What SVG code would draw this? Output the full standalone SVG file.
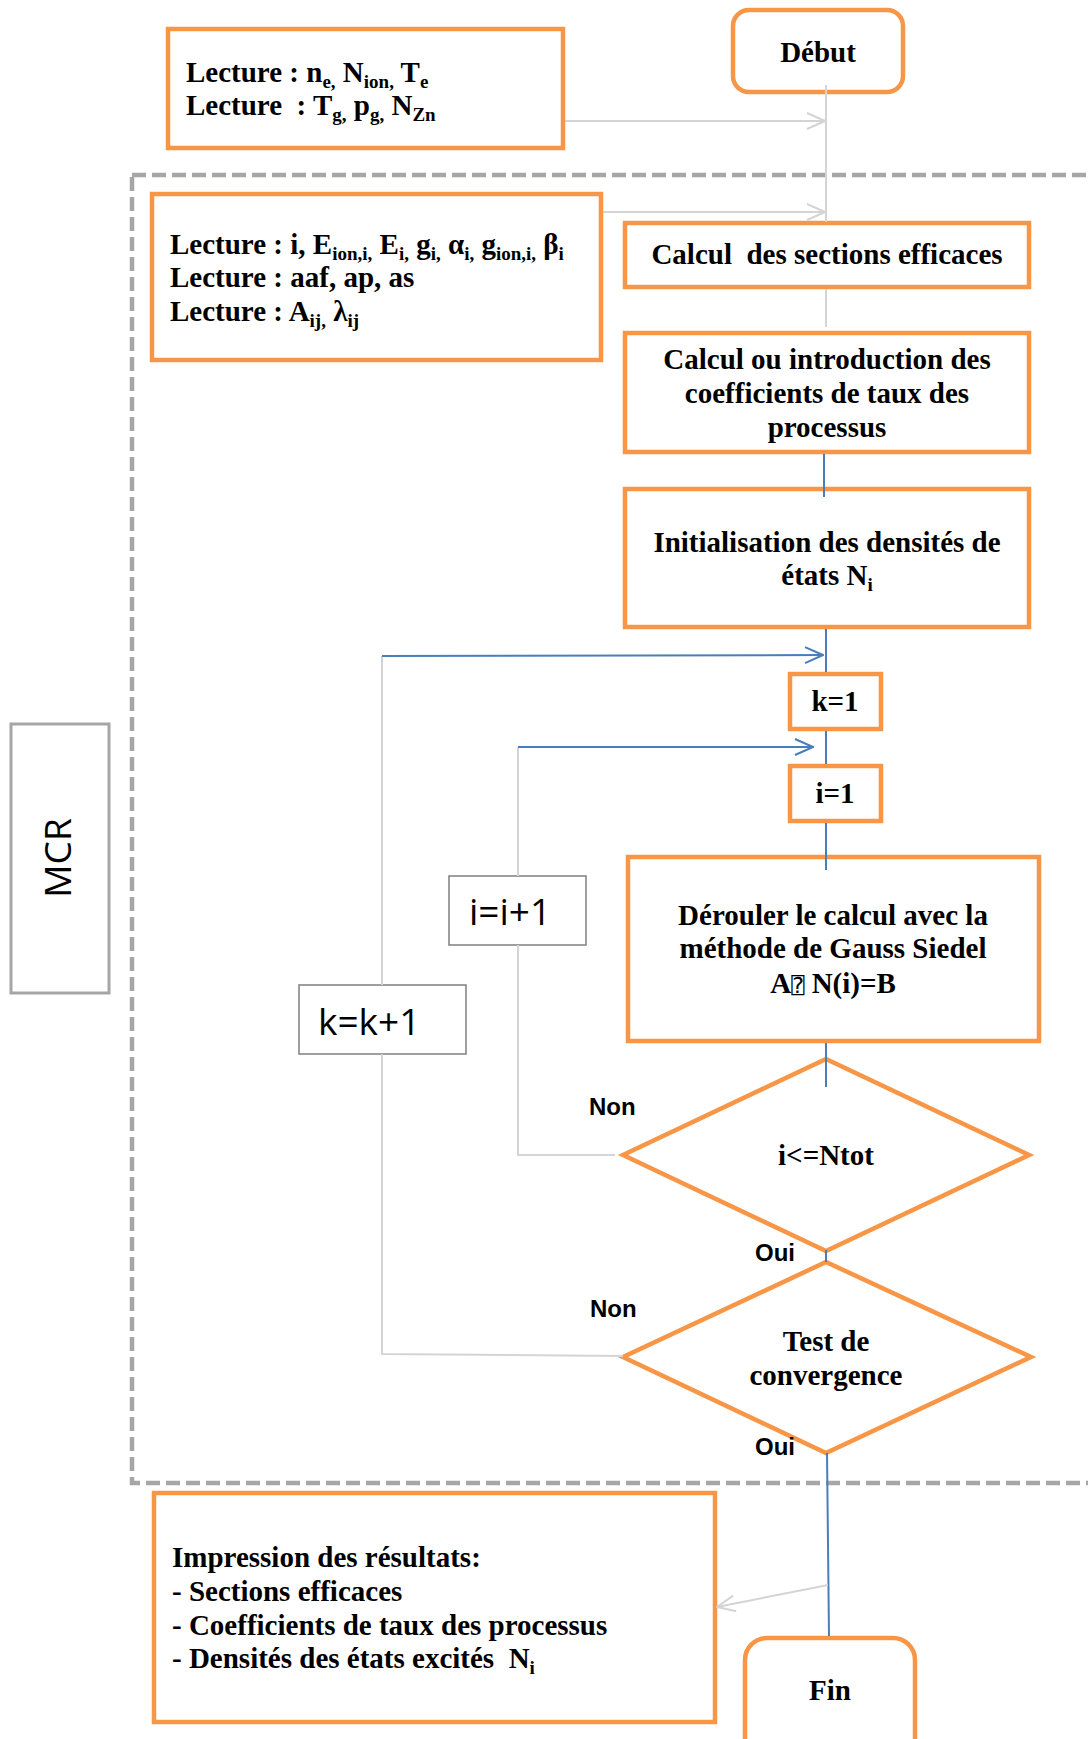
<svg xmlns="http://www.w3.org/2000/svg" width="1088" height="1739" viewBox="0 0 1088 1739">
<style>
.box{fill:#fff;stroke:#f79646;stroke-width:4.5}
.gbox{fill:#fff;stroke:#7f7f7f;stroke-width:1.5}
.mcr{fill:#fff;stroke:#a6a6a6;stroke-width:3}
.frame{fill:none;stroke:#a6a6a6;stroke-width:4.5;stroke-dasharray:14 6}
.t{font-family:'Liberation Serif','Times New Roman',serif;font-weight:bold;font-size:29px;fill:#000;white-space:pre}
.c{text-anchor:middle}
.lab{font-family:'Liberation Sans',Arial,sans-serif;font-weight:bold;font-size:24px;fill:#000}
.cal{font-family:'Open Sans','Noto Sans',sans-serif;font-size:37px;fill:#000}
.s{font-size:19px}
.gray{stroke:#d4d4d4;stroke-width:2;fill:none}
.blue{stroke:#4a7ebb;stroke-width:2;fill:none}
</style>
<defs>
<marker id="arrGray" viewBox="0 0 20 18" refX="19" refY="9" markerWidth="20" markerHeight="18" markerUnits="userSpaceOnUse" orient="auto">
<path d="M1,1 L19,9 L1,17" fill="none" stroke="#d4d4d4" stroke-width="2"/>
</marker>
<marker id="arrBlue" viewBox="0 0 20 18" refX="19" refY="9" markerWidth="20" markerHeight="18" markerUnits="userSpaceOnUse" orient="auto">
<path d="M1,1 L19,9 L1,17" fill="none" stroke="#4a7ebb" stroke-width="2"/>
</marker>
</defs>
<rect width="1088" height="1739" fill="#fff"/>

<!-- MCR region frame -->
<rect class="frame" x="132" y="175" width="1000" height="1308"/>

<g id="mcr-label">
<rect class="mcr" x="11" y="724" width="98" height="269"/>
<text class="cal" transform="translate(71,858) rotate(-90)" text-anchor="middle" font-size="36">MCR</text>
</g>

<g id="debut">
<rect class="box" x="733" y="10" width="170" height="82" rx="16"/>
<text class="t c" x="818" y="62">Début</text>
</g>

<g id="lecture1">
<rect class="box" x="168" y="29" width="395" height="119"/>
<text class="t" x="186" y="82">Lecture : n<tspan class="s" dy="6">e,</tspan><tspan dy="-6"> N</tspan><tspan class="s" dy="6">ion,</tspan><tspan dy="-6"> T</tspan><tspan class="s" dy="6">e</tspan></text>
<text class="t" x="186" y="115">Lecture  : T<tspan class="s" dy="6">g,</tspan><tspan dy="-6"> p</tspan><tspan class="s" dy="6">g,</tspan><tspan dy="-6"> N</tspan><tspan class="s" dy="6">Zn</tspan></text>
</g>

<g id="lecture2">
<rect class="box" x="152" y="194" width="449" height="166"/>
<text class="t" x="170" y="254">Lecture : i, E<tspan class="s" dy="6">ion,i,</tspan><tspan dy="-6"> E</tspan><tspan class="s" dy="6">i,</tspan><tspan dy="-6"> g</tspan><tspan class="s" dy="6">i,</tspan><tspan dy="-6"> α</tspan><tspan class="s" dy="6">i,</tspan><tspan dy="-6"> g</tspan><tspan class="s" dy="6">ion,i,</tspan><tspan dy="-6"> β</tspan><tspan class="s" dy="6">i</tspan></text>
<text class="t" x="170" y="287">Lecture : aaf, ap, as</text>
<text class="t" x="170" y="321">Lecture : A<tspan class="s" dy="6">ij,</tspan><tspan dy="-6"> λ</tspan><tspan class="s" dy="6">ij</tspan></text>
</g>

<g id="sections">
<rect class="box" x="625" y="223" width="404" height="64"/>
<text class="t c" x="827" y="264">Calcul  des sections efficaces</text>
</g>

<g id="coefficients">
<rect class="box" x="625" y="333" width="404" height="119"/>
<text class="t c" x="827" y="369">Calcul ou introduction des</text>
<text class="t c" x="827" y="403">coefficients de taux des</text>
<text class="t c" x="827" y="437">processus</text>
</g>

<g id="initialisation">
<rect class="box" x="625" y="489" width="404" height="138"/>
<text class="t c" x="827" y="552">Initialisation des densités de</text>
<text class="t c" x="827" y="585">états N<tspan class="s" dy="6">i</tspan></text>
</g>

<g id="k1">
<rect class="box" x="790" y="674" width="91" height="55"/>
<text class="t c" x="835" y="711">k=1</text>
</g>

<g id="i1">
<rect class="box" x="790" y="766" width="91" height="55"/>
<text class="t c" x="835" y="803">i=1</text>
</g>

<g id="gauss-seidel">
<rect class="box" x="628" y="857" width="411" height="184"/>
<text class="t c" x="833" y="925">Dérouler le calcul avec la</text>
<text class="t c" x="833" y="958">méthode de Gauss Siedel</text>
<text class="t c" x="833" y="993">A<tspan font-family="'DejaVu Sans Mono','DejaVu Sans',monospace" font-weight="normal" font-size="22">⍰</tspan> N(i)=B</text>
</g>

<g id="test-i">
<polygon class="box" points="826,1059 1029,1155 826,1251 623,1155"/>
<text class="t c" x="826" y="1165">i&lt;=Ntot</text>
</g>

<g id="test-convergence">
<polygon class="box" points="826,1262 1031,1357 826,1453 623,1357"/>
<text class="t c" x="826" y="1351">Test de</text>
<text class="t c" x="826" y="1385">convergence</text>
</g>

<g id="i-increment">
<rect class="gbox" x="449" y="876" width="137" height="69"/>
<text class="cal" x="469" y="925">i=i+1</text>
</g>

<g id="k-increment">
<rect class="gbox" x="299" y="985" width="167" height="69"/>
<text class="cal" x="318" y="1035">k=k+1</text>
</g>

<g id="impression">
<rect class="box" x="154" y="1493" width="561" height="229"/>
<text class="t" x="172" y="1567">Impression des résultats:</text>
<text class="t" x="172" y="1601">- Sections efficaces</text>
<text class="t" x="172" y="1635">- Coefficients de taux des processus</text>
<text class="t" x="172" y="1668">- Densités des états excités  N<tspan class="s" dy="6">i</tspan></text>
</g>

<g id="fin">
<rect class="box" x="745" y="1638" width="170" height="130" rx="22"/>
<text class="t c" x="830" y="1700">Fin</text>
</g>

<g id="connectors">
<line class="gray" x1="826" y1="85" x2="826" y2="222"/>
<line class="gray" x1="565" y1="121" x2="825" y2="121" marker-end="url(#arrGray)"/>
<line class="gray" x1="603" y1="212" x2="825" y2="212" marker-end="url(#arrGray)"/>
<line class="gray" x1="826" y1="289" x2="826" y2="327"/>
<line class="blue" x1="824" y1="454" x2="824" y2="497"/>
<line class="blue" x1="826" y1="629" x2="826" y2="672"/>
<line class="blue" x1="826" y1="731" x2="826" y2="764"/>
<line class="blue" x1="826" y1="823" x2="826" y2="870"/>
<line class="blue" x1="826" y1="1043" x2="826" y2="1087"/>
<line class="blue" x1="826" y1="1250" x2="826" y2="1262"/>
<line class="blue" x1="827" y1="1453" x2="829" y2="1636"/>
<!-- outer loop: convergence test back to k=1 -->
<polyline class="gray" points="623,1356 382,1354 382,1054"/>
<line class="gray" x1="382" y1="985" x2="382" y2="656"/>
<line class="blue" x1="382" y1="656" x2="823" y2="655" marker-end="url(#arrBlue)"/>
<!-- inner loop: i<=Ntot back to i=1 -->
<polyline class="gray" points="615,1155 518,1155 518,945"/>
<line class="gray" x1="518" y1="876" x2="518" y2="747"/>
<line class="blue" x1="518" y1="747" x2="813" y2="747" marker-end="url(#arrBlue)"/>
<!-- results output -->
<line class="gray" x1="828" y1="1585" x2="717" y2="1607" marker-end="url(#arrGray)"/>
</g>

<g id="branch-labels">
<text class="lab" x="589" y="1115">Non</text>
<text class="lab" x="755" y="1261">Oui</text>
<text class="lab" x="590" y="1317">Non</text>
<text class="lab" x="755" y="1455">Oui</text>
</g>
</svg>
